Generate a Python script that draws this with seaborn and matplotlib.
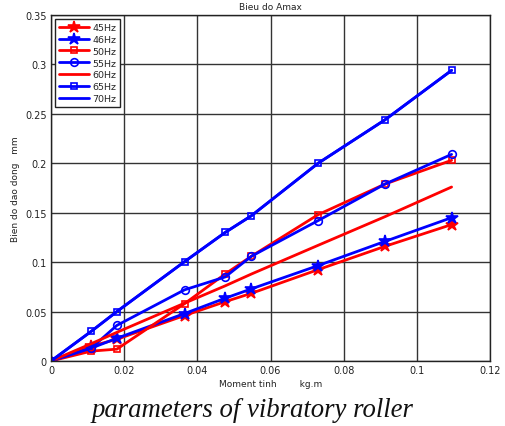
import pandas as pd
import seaborn as sns
import matplotlib.pyplot as plt
from matplotlib.ticker import FuncFormatter

# -------- DATA --------
moment = [0, 0.011, 0.018, 0.0365, 0.0476, 0.0548, 0.073, 0.0913, 0.1095]
a45 = [0, 0.015, 0.022, 0.046, 0.060, 0.0685, 0.0924, 0.116, 0.138]
a46 = [0, 0.013, 0.023, 0.048, 0.0635, 0.073, 0.0965, 0.121, 0.145]
a50 = [0, 0.010, 0.012, 0.058, 0.088, 0.106, 0.148, 0.179, 0.203]
a55 = [0, 0.013, 0.036, 0.072, 0.085, 0.106, 0.142, 0.179, 0.209]
a60 = [0, 0.0175, 0.029, 0.0585, 0.076, 0.088, 0.117, 0.146, 0.176]
a65 = [0, 0.030, 0.050, 0.1005, 0.130, 0.147, 0.200, 0.244, 0.294]
a70 = [0, 0.030, 0.050, 0.1005, 0.130, 0.147, 0.200, 0.244, 0.294]

labels = ["45Hz", "46Hz", "50Hz", "55Hz", "60Hz", "65Hz", "70Hz"]
series = [a45, a46, a50, a55, a60, a65, a70]

rows = []
for lab, vals in zip(labels, series):
    for m, v in zip(moment, vals):
        rows.append({"freq": lab, "moment": m, "amp": v})
df = pd.DataFrame(rows)

# -------- STYLE --------
RED, BLUE = "#ff0000", "#0000ff"
styles = {
    "45Hz": dict(color=RED, marker="*", ms=9, mfc=RED),
    "46Hz": dict(color=BLUE, marker="*", ms=9, mfc=BLUE),
    "50Hz": dict(color=RED, marker="s", ms=4.5, mfc="none"),
    "55Hz": dict(color=BLUE, marker="o", ms=5.5, mfc="none"),
    "60Hz": dict(color=RED, marker=None, ms=0, mfc="none"),
    "65Hz": dict(color=BLUE, marker="s", ms=4.5, mfc="none"),
    "70Hz": dict(color=BLUE, marker=None, ms=0, mfc="none"),
}

sns.set_style("white")
plt.rcParams["font.family"] = ["DejaVu Sans"]

fig = plt.figure(figsize=(5.05, 4.27), dpi=100)
ax = fig.add_axes([51 / 505, 1 - 362 / 427, 439 / 505, 346 / 427])

for lab in labels:
    st = styles[lab]
    sub = df[df["freq"] == lab]
    sns.lineplot(
        data=sub, x="moment", y="amp", ax=ax, label=lab,
        color=st["color"], marker=st["marker"], markersize=st["ms"],
        markerfacecolor=st["mfc"], markeredgecolor=st["color"],
        markeredgewidth=1.2, linewidth=2, estimator=None, sort=False,
    )

ax.set_xlim(0, 0.12)
ax.set_ylim(0, 0.35)
ax.set_xticks([0, 0.02, 0.04, 0.06, 0.08, 0.1, 0.12])
ax.set_yticks([0, 0.05, 0.1, 0.15, 0.2, 0.25, 0.3, 0.35])
fmt = FuncFormatter(lambda v, p: "%g" % round(v, 4))
ax.xaxis.set_major_formatter(fmt)
ax.yaxis.set_major_formatter(fmt)
ax.tick_params(axis="both", labelsize=7, colors="#222222", direction="in",
               length=3, width=0.8, pad=3)
ax.grid(True, color="#333333", linewidth=1.0, linestyle="-")
for s in ax.spines.values():
    s.set_color("#222222")
    s.set_linewidth(1.0)

ax.set_title("Bieu do Amax", fontsize=6.5, pad=4, color="#222222")
ax.set_xlabel("Moment tinh        kg.m", fontsize=6.5, color="#222222", labelpad=3)
ax.set_ylabel("Bien do dao dong   mm", fontsize=6.5, color="#222222", labelpad=4)

leg = ax.legend(loc="upper left", fontsize=6.8, frameon=True, fancybox=False,
                edgecolor="#222222", framealpha=1, handlelength=3.2,
                borderpad=0.4, labelspacing=0.3, handletextpad=0.3,
                borderaxespad=0.45)
leg.get_frame().set_linewidth(1.0)

fig.text(0.5, 1 - 411 / 427, "parameters of vibratory roller",
         ha="center", va="center", fontsize=19.3, style="italic",
         family="Liberation Serif", color="#111111")

plt.savefig("out.png", dpi=100)
